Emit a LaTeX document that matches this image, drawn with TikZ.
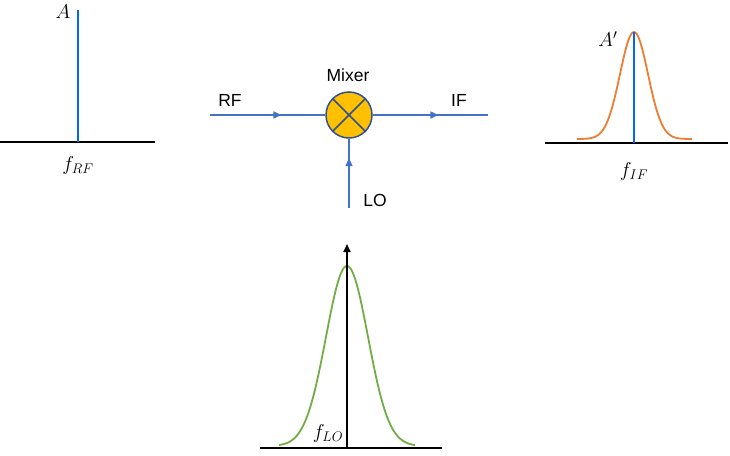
\RequirePackage{fix-cm}
\documentclass[tikz,border=0pt]{standalone}
\usepackage{fontspec}
\newfontfamily\arialf{Liberation Sans}
\usetikzlibrary{arrows.meta,decorations.markings}
\definecolor{lineblue}{HTML}{4472C4}
\definecolor{specblue}{HTML}{0066FF}
\definecolor{mixfill}{HTML}{FFC000}
\definecolor{mixborder}{HTML}{2F528F}
\definecolor{iforange}{HTML}{ED7D31}
\definecolor{logreen}{HTML}{70AD47}
\begin{document}
\begin{tikzpicture}[x=1pt,y=-1pt,
 axis/.style={black,line width=1.8pt},
 spike/.style={specblue,line width=1.8pt},
 sig/.style={lineblue,line width=1.6pt},
 midarrow/.style={decoration={markings, mark=at position #1 with {\arrow{Triangle[length=8pt,width=7pt]}}}, postaction={decorate}},
 lab/.style={font=\arialf\fontsize{17.5}{19}\selectfont, inner sep=0pt},
 mlab/.style={font=\fontsize{20}{22}\selectfont, inner sep=0pt},
]
\useasboundingbox (0,0) rectangle (730,455);

% RF spectrum
\coordinate (rfl) at (0,142);
\coordinate (rfr) at (155,142);
\coordinate (rfb) at (78,142);
\coordinate (rft) at (78,10);
\draw[axis] (rfl) -- (rfr);
\draw[spike] (rfb) -- (rft);
\node[mlab] (labA) at (63,12) {$A$};
\node[mlab] (labfrf) at (78,165) {$f_{RF}$};

% Mixer
\node[circle, draw=mixborder, fill=mixfill, line width=1.5pt, minimum size=46pt, inner sep=0pt] (mix) at (349,115) {};
\draw[mixborder, line width=1.5pt] (mix.north west) -- (mix.south east);
\draw[mixborder, line width=1.5pt] (mix.north east) -- (mix.south west);
\node[lab] (labmix) at (348,75) {Mixer};

\coordinate (rfin) at (210,115);
\coordinate (ifout) at (488,115);
\coordinate (loin) at (349,208);
\draw[sig, midarrow=0.62] (rfin) -- (mix.west);
\draw[sig, midarrow=0.57] (mix.east) -- (ifout);
\draw[sig, midarrow=0.72] (loin) -- (mix.south);
\node[lab] (labrf) at (230,100) {RF};
\node[lab] (labif) at (459,100) {IF};
\node[lab] (lablo) at (375,200) {LO};

% IF spectrum
\coordinate (ifl) at (545,143);
\coordinate (ifr) at (728,143);
\coordinate (ifb) at (634,143);
\coordinate (ift) at (634,32);
\draw[iforange, line width=1.8pt] plot[domain=577:692, samples=120] (\x, {139 - 107*exp(-((\x-634)^2)/(2*14*14))});
\draw[axis] (ifl) -- (ifr);
\draw[spike] (ifb) -- (ift);
\node[mlab] (labAp) at (608,39) {$A'$};
\node[mlab] (labfif) at (634,171) {$f_{IF}$};

% LO spectrum
\coordinate (lol) at (260,448);
\coordinate (lor) at (442,448);
\coordinate (lob) at (347,448);
\coordinate (lot) at (347,244);
\draw[logreen, line width=1.8pt] plot[domain=279:415, samples=120] (\x, {446 - 180*exp(-((\x-347)^2)/(2*21*21))});
\draw[axis] (lol) -- (lor);
\draw[axis, -{Triangle[length=8pt,width=7pt]}] (lob) -- (lot);
\node[mlab] (labflo) at (328,433) {$f_{LO}$};
\end{tikzpicture}
\end{document}
